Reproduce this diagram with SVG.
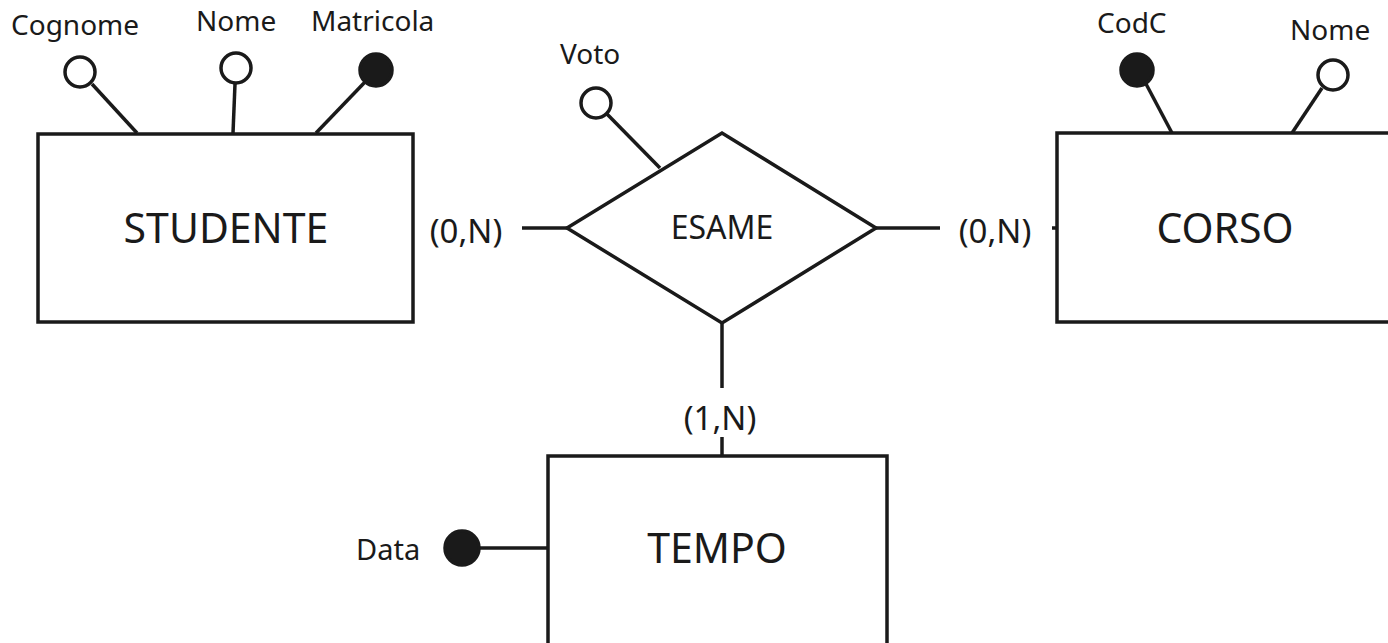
<svg xmlns="http://www.w3.org/2000/svg" width="1388" height="643" viewBox="0 0 1388 643">
<style>
.sh{fill:#fff;stroke:#1a1a1a;stroke-width:3.5}
.ln{stroke:#1a1a1a;stroke-width:3.5;fill:none}
.att{fill:#fff;stroke:#1a1a1a;stroke-width:3.5}
.key{fill:#1a1a1a;stroke:#1a1a1a;stroke-width:3.5}
text{font-family:"Noto Sans","Open Sans",sans-serif;fill:#1a1a1a}
.big{font-size:41px;text-anchor:middle}
.mid{font-size:33px;text-anchor:middle}
.es{font-size:32px;text-anchor:middle}
.sm{font-size:28px}
</style>
<rect width="1388" height="643" fill="#fff"/>
<g id="connectors">
<line class="ln" x1="92" y1="84" x2="137" y2="133"/>
<line class="ln" x1="235" y1="84" x2="233" y2="133"/>
<line class="ln" x1="365" y1="82" x2="316" y2="133"/>
<line class="ln" x1="606" y1="113" x2="660" y2="168"/>
<line class="ln" x1="1145" y1="82" x2="1172" y2="133"/>
<line class="ln" x1="1322" y1="88" x2="1292" y2="133"/>
<line class="ln" x1="478" y1="548" x2="548" y2="548"/>
<line class="ln" x1="522" y1="228" x2="567" y2="228"/>
<line class="ln" x1="876" y1="228" x2="940" y2="228"/>
<line class="ln" x1="1052" y1="228" x2="1057" y2="228"/>
<line class="ln" x1="722" y1="323" x2="722" y2="388"/>
<line class="ln" x1="722" y1="437" x2="722" y2="456"/>
<text class="mid" x="466" y="243">(0,N)</text>
<text class="mid" x="995" y="243">(0,N)</text>
<text class="mid" x="720" y="430">(1,N)</text>
</g>
<g id="studente">
<rect class="sh" x="38" y="134" width="375" height="188"/>
<text class="big" x="226" y="243">STUDENTE</text>
</g>
<g id="esame">
<polygon class="sh" points="567,228 722,133 876,228 722,323"/>
<text class="es" x="722" y="239">ESAME</text>
</g>
<g id="corso">
<rect class="sh" x="1057" y="133" width="340" height="189"/>
<text class="big" x="1225" y="243">CORSO</text>
</g>
<g id="tempo">
<rect class="sh" x="548" y="456" width="339" height="200"/>
<text class="big" x="717" y="563">TEMPO</text>
</g>
<g id="attr-cognome"><circle class="att" cx="80" cy="72" r="15"/><text class="sm" x="11" y="35">Cognome</text></g>
<g id="attr-nome-s"><circle class="att" cx="236" cy="68" r="15"/><text class="sm" x="196" y="31">Nome</text></g>
<g id="attr-matricola"><circle class="key" cx="376" cy="70" r="16"/><text class="sm" x="311" y="31">Matricola</text></g>
<g id="attr-voto"><circle class="att" cx="596" cy="103" r="15"/><text class="sm" x="560" y="64">Voto</text></g>
<g id="attr-codc"><circle class="key" cx="1137" cy="70" r="16"/><text class="sm" x="1097" y="33">CodC</text></g>
<g id="attr-nome-c"><circle class="att" cx="1333" cy="75" r="15"/><text class="sm" x="1290" y="40">Nome</text></g>
<g id="attr-data"><circle class="key" cx="462" cy="548" r="17"/><text class="sm" x="356" y="560" style="font-size:29px">Data</text></g>
</svg>
